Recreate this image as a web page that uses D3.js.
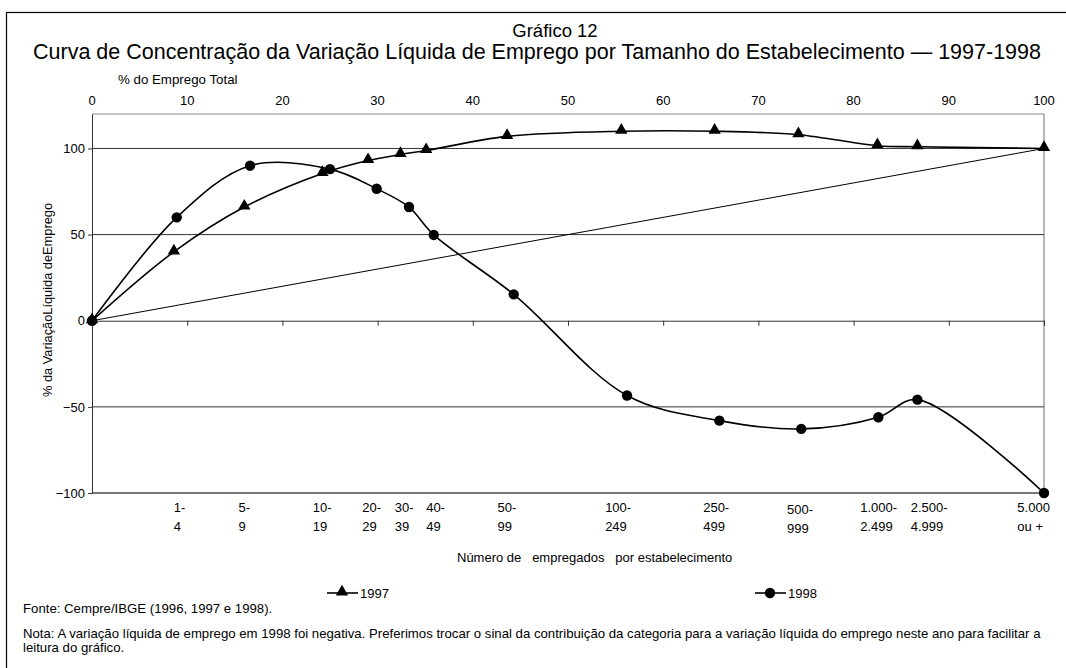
<!DOCTYPE html>
<html>
<head>
<meta charset="utf-8">
<script src="https://cdn.jsdelivr.net/npm/d3@7"></script>
<style>
  body { margin: 0; background: #fff; }
  text { font-family: Arial, "Liberation Sans", sans-serif; fill: #000; white-space: pre; }
</style>
</head>
<body>
<script>
// % do emprego total (x) e % da variação líquida (y)
const x1997 = [0, 8.6, 16.0, 24.2, 29.0, 32.4, 35.1, 43.6, 55.6, 65.4, 74.2, 82.5, 86.7, 100];
const y1997 = [0, 40, 66, 85.5, 93, 96.5, 98.8, 107, 110, 110, 108, 101.6, 101, 100];
const x1998 = [0, 8.9, 16.6, 25.0, 29.9, 33.3, 35.9, 44.3, 56.2, 65.9, 74.5, 82.6, 86.7, 100];
const y1998 = [0, 60, 90, 88, 76.6, 66, 49.8, 15.3, -43.4, -58, -62.8, -56, -45.8, -100];
const categories = ["1-|4", "5-|9", "10-|19", "20-|29", "30-|39", "40-|49", "50-|99",
  "100-|249", "250-|499", "500-|999", "1.000-|2.499", "2.500-|4.999", "5.000|ou +"];
const categoryPos = [8.6, 15.4, 23.2, 28.4, 31.8, 35.1, 42.6, 53.9, 64.2, 73.0, 80.7, 86.0, 97.2];
const xTicks = [0, 10, 20, 30, 40, 50, 60, 70, 80, 90, 100];
const yTicks = [-100, -50, 0, 50, 100];

const w = 1066, h = 668;
const mLeft = 92, mRight = 1044, mTop = 114, mBottom = 493;

const svg = d3.select("body").append("svg")
  .attr("width", w).attr("height", h);

// moldura
svg.append("rect")
  .attr("x", 6.5).attr("y", 12.5).attr("width", 1100).attr("height", 700)
  .attr("fill", "none").attr("stroke", "#000").attr("stroke-width", 1.2);

const x = d3.scaleLinear().domain([0, 100]).range([mLeft, mRight]);
const y = d3.scaleLinear().domain([-100, 120]).range([mBottom, mTop]);

// títulos
svg.append("text").attr("x", 555).attr("y", 37).attr("text-anchor", "middle")
  .style("font-size", "18.5px").text("Gráfico 12");
svg.append("text").attr("x", 537).attr("y", 59).attr("text-anchor", "middle")
  .style("font-size", "21.5px")
  .text("Curva de Concentração da Variação Líquida de Emprego por Tamanho do Estabelecimento — 1997-1998");
svg.append("text").attr("x", 118).attr("y", 84)
  .style("font-size", "13.3px").text("% do Emprego Total");

// eixo superior
svg.selectAll(".xtop").data(xTicks).enter().append("text")
  .attr("x", d => x(d)).attr("y", 105).attr("text-anchor", "middle")
  .style("font-size", "13px").text(d => d);

// moldura da área de plotagem
svg.append("line").attr("x1", mLeft).attr("x2", mRight).attr("y1", y(120)).attr("y2", y(120))
  .attr("stroke", "#888").attr("stroke-width", 1.2);
svg.append("line").attr("x1", mRight).attr("x2", mRight).attr("y1", y(120)).attr("y2", y(-100))
  .attr("stroke", "#888").attr("stroke-width", 1.2);
svg.append("line").attr("x1", mLeft).attr("x2", mRight).attr("y1", y(-100)).attr("y2", y(-100))
  .attr("stroke", "#777").attr("stroke-width", 2);

// grades
svg.selectAll(".grid").data([100, 50, -50]).enter().append("line")
  .attr("x1", mLeft).attr("x2", mRight).attr("y1", d => y(d)).attr("y2", d => y(d))
  .attr("stroke", "#333").attr("stroke-width", 1);

// eixo horizontal no zero com marcas
svg.append("g").attr("transform", `translate(0,${y(0)})`)
  .call(d3.axisBottom(x).tickValues(xTicks).tickSize(5).tickFormat(""))
  .call(g => g.select(".domain").attr("stroke", "#333"))
  .call(g => g.selectAll(".tick line").attr("stroke", "#333"));

// eixo vertical
svg.append("g").attr("transform", `translate(${mLeft},0)`)
  .call(d3.axisLeft(y).tickValues(yTicks).tickSize(4).tickSizeOuter(0))
  .call(g => g.select(".domain").attr("stroke", "#333"))
  .call(g => g.selectAll(".tick line").attr("stroke", "#333"))
  .call(g => g.selectAll(".tick text").style("font-size", "13px")
    .style("font-family", "Arial, 'Liberation Sans', sans-serif").attr("x", -7));

svg.append("text")
  .attr("transform", "translate(52,300) rotate(-90)")
  .attr("text-anchor", "middle").style("font-size", "13px")
  .attr("textLength", 194).attr("lengthAdjust", "spacingAndGlyphs")
  .text("% da VariaçãoLíquida deEmprego");

// diagonal
svg.append("line").attr("x1", x(0)).attr("y1", y(0)).attr("x2", x(100)).attr("y2", y(100))
  .attr("stroke", "#000").attr("stroke-width", 1);

const data1997 = x1997.map((d, i) => ({ x: d, y: y1997[i] }));
const data1998 = x1998.map((d, i) => ({ x: d, y: y1998[i] }));

const line = d3.line().x(d => x(d.x)).y(d => y(d.y)).curve(d3.curveCatmullRom.alpha(0.5));

svg.append("path").datum(data1997).attr("d", line)
  .attr("fill", "none").attr("stroke", "#000").attr("stroke-width", 1.6);
svg.append("path").datum(data1998).attr("d", line)
  .attr("fill", "none").attr("stroke", "#000").attr("stroke-width", 1.6);

const tri = d3.symbol().type(d3.symbolTriangle).size(66);
svg.selectAll(".tri").data(data1997).enter().append("path")
  .attr("d", tri).attr("transform", d => `translate(${x(d.x)},${y(d.y) - 1})`)
  .attr("fill", "#000");
svg.selectAll(".dot").data(data1998).enter().append("circle")
  .attr("cx", d => x(d.x)).attr("cy", d => y(d.y)).attr("r", 5.2)
  .attr("fill", "#000");

// rótulos das categorias
const cat = svg.selectAll(".cat").data(categories).enter().append("text")
  .style("font-size", "13px")
  .attr("transform", (d, i) => `translate(${x(categoryPos[i])},${d.startsWith("500") ? 514 : 512})`);
cat.append("tspan").attr("x", 0).attr("y", 0).text(d => d.split("|")[0]);
cat.append("tspan").attr("x", 0).attr("y", 19).text(d => d.split("|")[1]);

svg.append("text").attr("x", 457).attr("y", 562).style("font-size", "13px")
  .text("Número de   empregados   por estabelecimento");

// legenda
const legend = [{ name: "1997", x: 327, sym: "tri" }, { name: "1998", x: 755, sym: "dot" }];
const lg = svg.selectAll(".lg").data(legend).enter().append("g")
  .attr("transform", d => `translate(${d.x},593)`);
lg.append("line").attr("x1", 0).attr("x2", 31).attr("stroke", "#000").attr("stroke-width", 1.6);
lg.filter(d => d.sym === "tri").append("path").attr("d", tri).attr("transform", "translate(15,-1)");
lg.filter(d => d.sym === "dot").append("circle").attr("cx", 15).attr("r", 5.2);
lg.append("text").attr("x", 33).attr("y", 5).style("font-size", "13px").text(d => d.name);

// notas
svg.append("text").attr("x", 23).attr("y", 613).style("font-size", "13.2px")
  .text("Fonte: Cempre/IBGE (1996, 1997 e 1998).");
svg.append("text").attr("x", 23).attr("y", 638).style("font-size", "13.2px")
  .text("Nota: A variação líquida de emprego em 1998 foi negativa. Preferimos trocar o sinal da contribuição da categoria para a variação líquida do emprego neste ano para facilitar a");
svg.append("text").attr("x", 23).attr("y", 652).style("font-size", "13.2px")
  .text("leitura do gráfico.");
</script>
</body>
</html>
